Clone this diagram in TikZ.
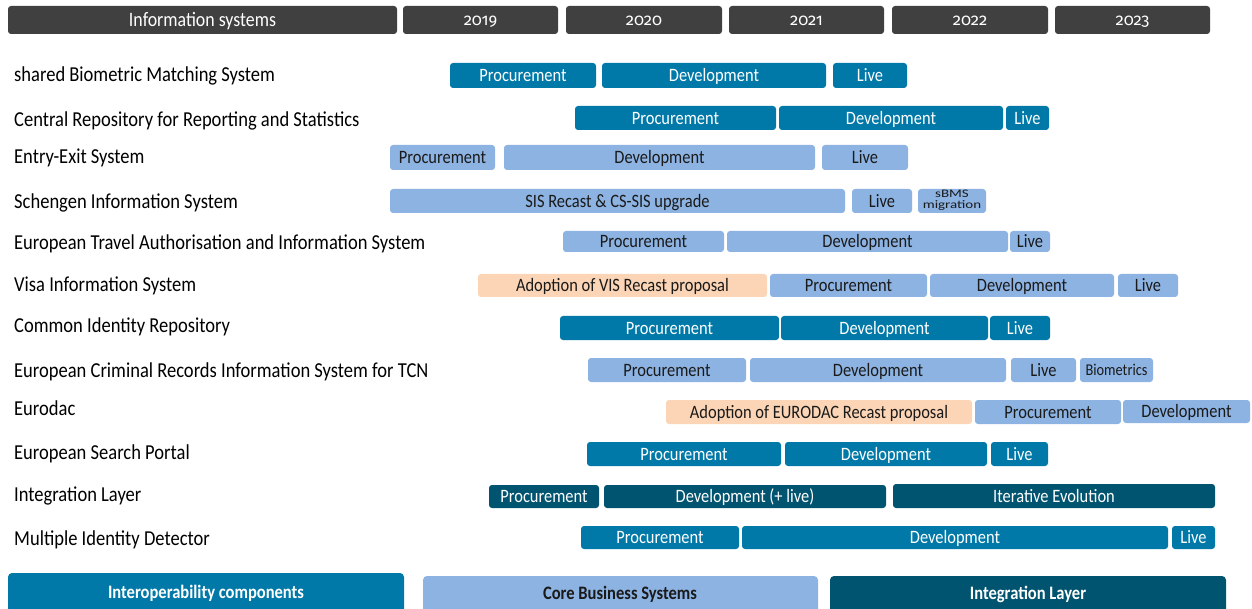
\documentclass[tikz,border=0pt]{standalone}
\usepackage{fontspec}
\setmainfont[FakeStretch=0.87]{Carlito}
\newfontfamily\yearfont[Numbers={OldStyle,Proportional}]{Fira Sans}
\newfontfamily\wideFont[FakeStretch=1.3]{Carlito}
\definecolor{hdrgray}{HTML}{404040}
\definecolor{icteal}{HTML}{0079A8}
\definecolor{cblue}{HTML}{8DB3E2}
\definecolor{adpeach}{HTML}{FBD5B5}
\definecolor{ilnavy}{HTML}{005470}
\definecolor{txtdark}{HTML}{1A1A1A}
\newcommand\gbar[7]{\node[#2, minimum width={(#4)-(#3)}, minimum height={(#6)-(#5)}] (#1) at ({((#3)+(#4))/2},{((#5)+(#6))/2}) {#7};}
\begin{document}
\begin{tikzpicture}[x=1pt,y=-1pt,
  base/.style={rounded corners=3pt, inner sep=0pt, outer sep=0pt, align=center,
     font=\fontsize{18.9}{19}\selectfont, text height=12.2pt, text depth=0pt},
  hdr/.style={base, fill=hdrgray, text=white, font=\fontsize{20.5}{20}\selectfont, text height=13pt},
  yr/.style={base, fill=hdrgray, text=white, font=\yearfont\fontsize{16.5}{17}\selectfont, text height=11pt},
  ic/.style={base, fill=icteal, text=white},
  cb/.style={base, fill=cblue, text=txtdark},
  ad/.style={base, fill=adpeach, text=txtdark},
  il/.style={base, fill=ilnavy, text=white},
  bio/.style={font=\fontsize{16.5}{16}\selectfont, text height=10.6pt},
  twoline/.style={font=\wideFont\fontsize{11.5}{11}\selectfont, text height=16pt, text depth=0pt},
  lbl/.style={anchor=west, inner sep=0pt, font=\fontsize{21.3}{21}\selectfont, text height=13.7pt, text depth=0pt, text=black},
  leg/.style={inner sep=0pt, font=\bfseries\fontsize{19}{19}\selectfont, text height=12.2pt, text depth=0pt},
  legbox/.style={rounded corners=4pt, inner sep=0pt, outer sep=0pt, anchor=north west, minimum height=48}]
\useasboundingbox (0,0) rectangle (1252,609);
% header
\gbar{hinfo}{hdr}{8}{397}{6}{34}{Information systems}
\gbar{y2019}{yr}{403}{558}{6}{34}{2019}
\gbar{y2020}{yr}{566}{722}{6}{34}{2020}
\gbar{y2021}{yr}{729}{884}{6}{34}{2021}
\gbar{y2022}{yr}{892}{1048}{6}{34}{2022}
\gbar{y2023}{yr}{1055}{1210}{6}{34}{2023}
% row labels
\node[lbl] (l1) at (14,75) {shared Biometric Matching System};
\node[lbl] (l2) at (14,120) {Central Repository for Reporting and Statistics};
\node[lbl] (l3) at (14,157) {Entry-Exit System};
\node[lbl] (l4) at (14,202) {Schengen Information System};
\node[lbl] (l5) at (14,243) {European Travel Authorisation and Information System};
\node[lbl] (l6) at (14,285) {Visa Information System};
\node[lbl] (l7) at (14,326) {Common Identity Repository};
\node[lbl] (l8) at (14,371) {European Criminal Records Information System for TCN};
\node[lbl] (l9) at (14,409) {Eurodac};
\node[lbl] (l10) at (14,453) {European Search Portal};
\node[lbl] (l11) at (14,495) {Integration Layer};
\node[lbl] (l12) at (14,539) {Multiple Identity Detector};
% row 1
\gbar{r1a}{ic}{450}{596}{63}{88}{Procurement}
\gbar{r1b}{ic}{602}{826}{63}{88}{Development}
\gbar{r1c}{ic}{833}{907}{63}{88}{Live}
% row 2
\gbar{r2a}{ic}{575}{776}{106}{130}{Procurement}
\gbar{r2b}{ic}{779}{1003}{106}{130}{Development}
\gbar{r2c}{ic}{1006}{1049}{106}{130}{Live}
% row 3
\gbar{r3a}{cb}{390}{495}{145}{170}{Procurement}
\gbar{r3b}{cb}{504}{815}{145}{170}{Development}
\gbar{r3c}{cb}{822}{908}{145}{170}{Live}
% row 4
\gbar{r4a}{cb}{390}{845}{189}{213}{SIS Recast \& CS-SIS upgrade}
\gbar{r4b}{cb}{852}{912}{189}{213}{Live}
\gbar{r4c}{cb,twoline}{918}{986}{189}{213}{sBMS\\migration}
% row 5
\gbar{r5a}{cb}{563}{724}{231}{252}{Procurement}
\gbar{r5b}{cb}{727}{1008}{231}{252}{Development}
\gbar{r5c}{cb}{1010}{1050}{231}{252}{Live}
% row 6
\gbar{r6a}{ad}{478}{767}{274}{297}{Adoption of VIS Recast proposal}
\gbar{r6b}{cb}{770}{927}{274}{297}{Procurement}
\gbar{r6c}{cb}{930}{1114}{274}{297}{Development}
\gbar{r6d}{cb}{1118}{1178}{274}{297}{Live}
% row 7
\gbar{r7a}{ic}{560}{779}{316}{340}{Procurement}
\gbar{r7b}{ic}{781}{988}{316}{340}{Development}
\gbar{r7c}{ic}{990}{1050}{316}{340}{Live}
% row 8
\gbar{r8a}{cb}{588}{746}{358}{382}{Procurement}
\gbar{r8b}{cb}{750}{1006}{358}{382}{Development}
\gbar{r8c}{cb}{1011}{1076}{358}{382}{Live}
\gbar{r8d}{cb,bio}{1080}{1153}{358}{382}{Biometrics}
% row 9
\gbar{r9a}{ad}{666}{972}{400}{424}{Adoption of EURODAC Recast proposal}
\gbar{r9b}{cb}{975}{1121}{400}{424}{Procurement}
\gbar{r9c}{cb}{1123}{1250}{400}{423}{Development}
% row 10
\gbar{r10a}{ic}{587}{781}{442}{466}{Procurement}
\gbar{r10b}{ic}{785}{987}{442}{466}{Development}
\gbar{r10c}{ic}{991}{1048}{442}{466}{Live}
% row 11
\gbar{r11a}{il}{489}{599}{485}{508}{Procurement}
\gbar{r11b}{il}{604}{886}{485}{508}{Development (+ live)}
\gbar{r11c}{il}{893}{1215}{484}{508}{Iterative Evolution}
% row 12
\gbar{r12a}{ic}{581}{739}{526}{549}{Procurement}
\gbar{r12b}{ic}{742}{1168}{526}{549}{Development}
\gbar{r12c}{ic}{1172}{1215}{526}{549}{Live}
% legend
\node[legbox, fill=icteal, minimum width=396] (g1) at (8,573) {};
\node[leg, text=white] (g1t) at (206,592) {Interoperability components};
\node[legbox, fill=cblue, minimum width=395] (g2) at (423,576) {};
\node[leg, text=txtdark] (g2t) at (620,593) {Core Business Systems};
\node[legbox, fill=ilnavy, minimum width=396] (g3) at (830,576) {};
\node[leg, text=white] (g3t) at (1028,593) {Integration Layer};
\end{tikzpicture}
\end{document}
